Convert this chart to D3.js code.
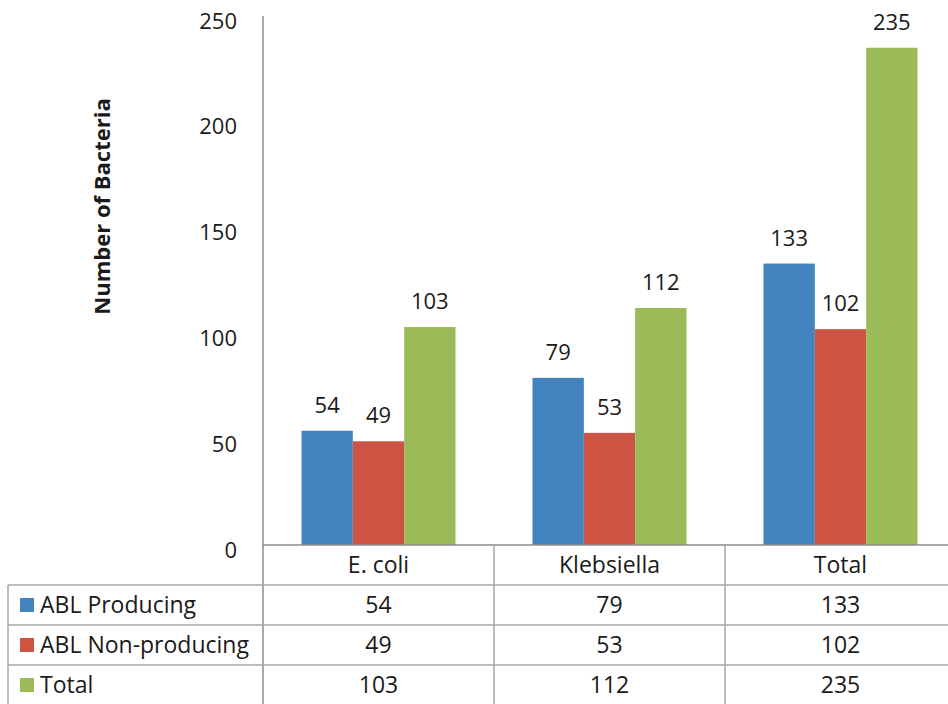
<!DOCTYPE html>
<html>
<head>
<meta charset="utf-8">
<script src="https://cdn.jsdelivr.net/npm/d3@7"></script>
<style>
  html, body { margin: 0; padding: 0; background: #fff; }
  svg { display: block; }
  text { font-family: "Open Sans", sans-serif; fill: #1a1a1a; }
</style>
</head>
<body>
<svg id="chart" width="948" height="704"></svg>
<script>
// Bacteria counts by organism and ABL status
const categories = ["E. coli", "Klebsiella", "Total"];
const seriesNames = ["ABL Producing", "ABL Non-producing", "Total"];
const ablProducing = [54, 79, 133];
const ablNonProducing = [49, 53, 102];
const totals = [103, 112, 235];
const yTicks = [0, 50, 100, 150, 200, 250];
const colors = ["#4383BE", "#CD5442", "#9BBB59"];

const series = [ablProducing, ablNonProducing, totals];

const svg = d3.select("#chart");
const fontSize = 22;
const tableFont = 23;

const plotLeft = 263, plotRight = 956;
const plotTop = 16, plotBottom = 545;
const rowH = 40;
const tableLeft = 8;
const gridColor = "#a6a6a6";

const x0 = d3.scaleBand()
  .domain(categories)
  .range([plotLeft, plotRight])
  .paddingInner(1 / 3)
  .paddingOuter(1 / 6);

const x1 = d3.scaleBand()
  .domain(seriesNames)
  .range([0, x0.bandwidth()]);

const y = d3.scaleLinear().domain([0, 250]).range([plotBottom, plotTop]);

// Column edges of the data table (one column per category)
const step = x0.step();
const colEdges = categories.map((c, i) => plotLeft + i * step);

// Bars
const groups = svg.append("g")
  .selectAll("g")
  .data(categories)
  .join("g")
  .attr("transform", d => `translate(${x0(d)},0)`);

groups.selectAll("rect")
  .data((d, i) => seriesNames.map((s, j) => ({ s, v: series[j][i], j })))
  .join("rect")
  .attr("x", d => x1(d.s))
  .attr("width", x1.bandwidth())
  .attr("y", d => y(d.v))
  .attr("height", d => y(0) - y(d.v))
  .attr("fill", d => colors[d.j]);

// Value labels above bars
groups.selectAll("text.val")
  .data((d, i) => seriesNames.map((s, j) => ({ s, v: series[j][i], j })))
  .join("text")
  .attr("class", "val")
  .attr("x", d => x1(d.s) + x1.bandwidth() / 2)
  .attr("y", d => y(d.v) - 18)
  .attr("text-anchor", "middle")
  .style("font-size", fontSize + "px")
  .text(d => d.v);

// Y axis
const yAxis = svg.append("g")
  .attr("transform", `translate(${plotLeft},0)`)
  .call(d3.axisLeft(y).tickValues(yTicks).tickSize(0).tickPadding(26));
yAxis.select(".domain").remove();
yAxis.selectAll("text")
  .attr("dy", "0.55em")
  .style("font-size", fontSize + "px")
  .style("font-family", "'Open Sans', sans-serif")
  .attr("fill", "#1a1a1a");

svg.append("line")
  .attr("x1", plotLeft).attr("x2", plotLeft)
  .attr("y1", plotTop).attr("y2", 704)
  .attr("stroke", "#8c8c8c").attr("stroke-width", 1.5);

// Axis title
svg.append("text")
  .attr("transform", `translate(110,${(plotTop + plotBottom) / 2 - 74}) rotate(-90)`)
  .attr("text-anchor", "middle")
  .style("font-size", "22px")
  .style("font-weight", "bold")
  .text("Number of Bacteria");

// Data table grid
const tbl = svg.append("g");
// baseline / header top
tbl.append("line")
  .attr("x1", plotLeft).attr("x2", 948)
  .attr("y1", plotBottom).attr("y2", plotBottom)
  .attr("stroke", "#8c8c8c").attr("stroke-width", 1.5);
// row separators
[1, 2, 3].forEach(r => {
  tbl.append("line")
    .attr("x1", tableLeft).attr("x2", 948)
    .attr("y1", plotBottom + r * rowH).attr("y2", plotBottom + r * rowH)
    .attr("stroke", gridColor).attr("stroke-width", 1.5);
});
// vertical separators
colEdges.slice(1).forEach(xv => {
  tbl.append("line")
    .attr("x1", xv).attr("x2", xv)
    .attr("y1", plotBottom).attr("y2", 704)
    .attr("stroke", gridColor).attr("stroke-width", 1.5);
});
tbl.append("line")
  .attr("x1", tableLeft).attr("x2", tableLeft)
  .attr("y1", plotBottom + rowH).attr("y2", 704)
  .attr("stroke", gridColor).attr("stroke-width", 1.5);

// Category header
tbl.selectAll("text.cat")
  .data(categories)
  .join("text")
  .attr("class", "cat")
  .attr("x", d => x0(d) + x0.bandwidth() / 2)
  .attr("y", plotBottom + rowH / 2)
  .attr("dy", "0.36em")
  .attr("text-anchor", "middle")
  .style("font-size", tableFont + "px")
  .text(d => d);

// Series rows: legend key + values
seriesNames.forEach((name, j) => {
  const cy = plotBottom + (j + 1) * rowH + rowH / 2;
  tbl.append("rect")
    .attr("x", 20).attr("y", cy - 7)
    .attr("width", 14).attr("height", 14)
    .attr("fill", colors[j]);
  tbl.append("text")
    .attr("x", 40).attr("y", cy)
    .attr("dy", "0.36em")
    .style("font-size", tableFont + "px")
    .text(name);
  tbl.selectAll(null)
    .data(categories)
    .join("text")
    .attr("x", (d) => x0(d) + x0.bandwidth() / 2)
    .attr("y", cy)
    .attr("dy", "0.36em")
    .attr("text-anchor", "middle")
    .style("font-size", tableFont + "px")
    .text((d, i) => series[j][i]);
});
</script>
</body>
</html>
